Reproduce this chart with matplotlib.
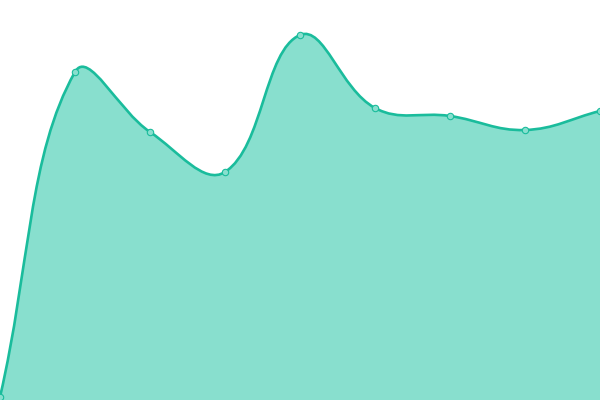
import numpy as np
import matplotlib
matplotlib.use("Agg")
import matplotlib.pyplot as plt
from matplotlib.path import Path
from matplotlib.patches import PathPatch

# values (pixel height above the bottom edge)
labels = ["p1", "p2", "p3", "p4", "p5", "p6", "p7", "p8", "p9"]
values = [3, 328, 268, 228, 365, 292, 284, 270, 289]

LINE = "#1abc9c"
FILL = "#88dfce"


def spline_controls(xs, ys, tension=0.4):
    # same control points as a Chart.js line with tension
    n = len(xs)
    ctrl = []
    for i in range(n):
        px, py = (xs[i - 1], ys[i - 1]) if i > 0 else (xs[i], ys[i])
        nx, ny = (xs[i + 1], ys[i + 1]) if i < n - 1 else (xs[i], ys[i])
        cx, cy = xs[i], ys[i]
        d01 = np.hypot(cx - px, cy - py)
        d12 = np.hypot(nx - cx, ny - cy)
        tot = d01 + d12
        s01 = d01 / tot if tot else 0
        s12 = d12 / tot if tot else 0
        fa = tension * s01
        fb = tension * s12
        prev = (cx - fa * (nx - px), cy - fa * (ny - py))
        nxt = (cx + fb * (nx - px), cy + fb * (ny - py))
        ctrl.append((prev, nxt))
    return ctrl


fig = plt.figure(figsize=(6, 4), dpi=100)
ax = fig.add_axes([0, 0, 1, 1])
ax.set_xlim(0, 600)
ax.set_ylim(0, 400)
ax.axis("off")

xs = [i * 75 for i in range(len(values))]
ys = values
ctrl = spline_controls(xs, ys)

verts = [(xs[0], ys[0])]
codes = [Path.MOVETO]
for i in range(1, len(xs)):
    verts += [ctrl[i - 1][1], ctrl[i][0], (xs[i], ys[i])]
    codes += [Path.CURVE4] * 3

line_path = Path(verts, codes)
fill_path = Path(verts + [(xs[-1], 0), (xs[0], 0), (xs[0], ys[0])],
                 codes + [Path.LINETO, Path.LINETO, Path.LINETO])

ax.add_patch(PathPatch(fill_path, facecolor=FILL, edgecolor="none", zorder=1))
ax.add_patch(PathPatch(line_path, facecolor="none", edgecolor=LINE, lw=1.9,
                       zorder=2, capstyle="round", joinstyle="round"))
ax.plot(xs, ys, "o", ms=4.6, mfc=FILL, mec=LINE, mew=0.8, zorder=3,
        clip_on=False)

fig.savefig("out.png", dpi=100)
